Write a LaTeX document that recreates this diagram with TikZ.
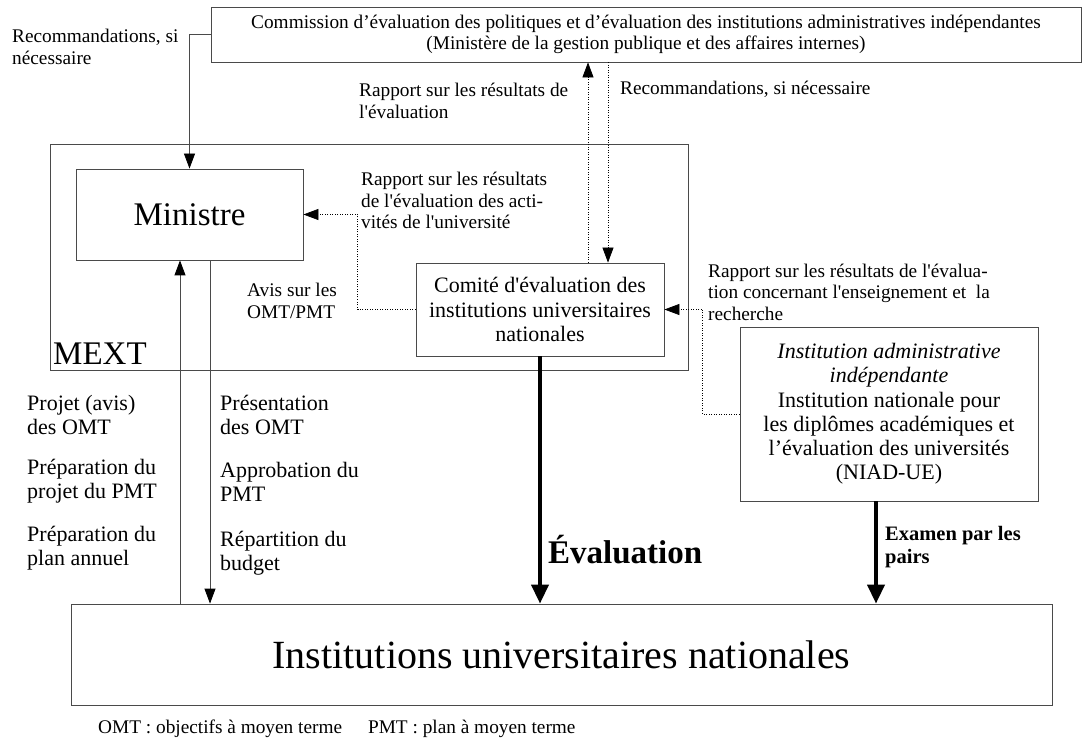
\documentclass[tikz,border=0pt]{standalone}
\usepackage{fontspec}
\setmainfont{Liberation Serif}
\usepackage{tikz}
\usetikzlibrary{arrows.meta,positioning,calc}
\definecolor{linegray}{HTML}{4A4A4A}
\newcommand{\sqt}{\textquotesingle}
\tikzset{
  box/.style={draw=linegray, line width=0.8pt, align=center, inner sep=0pt, font=\fontsize{22}{24.2}\selectfont},
  smallbox/.style={box, font=\fontsize{19.3}{21.5}\selectfont},
  panel/.style={draw=linegray, line width=0.8pt, inner sep=0pt},
  lbl/.style={align=left, inner sep=0pt, anchor=west, font=\fontsize{19.3}{21.5}\selectfont},
  collbl/.style={align=left, inner sep=0pt, anchor=west, font=\fontsize{22}{24}\selectfont},
  biglbl/.style={anchor=base west, inner sep=0pt, font=\fontsize{33}{36}\selectfont},
  arrow/.style={-{Triangle[length=15pt,width=11pt,color=black]}, draw=linegray, line width=0.8pt},
  dotarrow/.style={-{Triangle[length=15pt,width=11pt,color=black]}, draw=black, line width=0.7pt, dash pattern=on 1pt off 1.5pt},
  bigarrow/.style={-{Triangle[length=19pt,width=17pt]}, draw=black, line width=3.8pt}
}

\begin{document}
\begin{tikzpicture}[x=1pt, y=-1pt]
  \useasboundingbox (0,0) rectangle (1082,738);

  \node[panel, minimum width=638pt, minimum height=226pt] (mext) at (369,257) {};
  \node[smallbox, minimum width=870pt, minimum height=55pt] (commission) at (646,34.5) {Commission d’évaluation des politiques et d’évaluation des institutions administratives indépendantes\\(Ministère de la gestion publique et des affaires internes)};
  \node[box, font=\fontsize{33}{36}\selectfont, minimum width=227pt, minimum height=91pt] (ministre) at (189.5,214.5) {Ministre};
  \node[box, minimum width=248pt, minimum height=93pt] (comite) at (540,309.5) {Comité d\sqt évaluation des\\institutions universitaires\\nationales};
  \node[box, minimum width=298pt, minimum height=174pt] (niad) at (889,414) {\textit{Institution administrative}\\\textit{indépendante}\\Institution nationale pour\\les diplômes académiques et\\l’évaluation des universités\\(NIAD-UE)};
  \node[box, font=\fontsize{40}{44}\selectfont, minimum width=981pt, minimum height=101pt] (inst) at (561.5,654.5) {Institutions universitaires nationales};

  \node[biglbl] (mextlbl) at (53,364) {MEXT};
  \node[lbl] (recoml) at (12,47) {Recommandations, si\\nécessaire};
  \node[lbl] (rapportcom) at (359,101) {Rapport sur les résultats de\\l\sqt évaluation};
  \node[lbl, anchor=base west] (recomr) at (620,95) {Recommandations, si nécessaire};
  \node[lbl] (rapportmin) at (361,200.5) {Rapport sur les résultats\\de l\sqt évaluation des acti-\\vités de l\sqt université};
  \node[lbl] (avis) at (247,301) {Avis sur les\\OMT/PMT};
  \node[lbl] (rapportniad) at (708,292) {Rapport sur les résultats de l\sqt évalua-\\tion concernant l\sqt enseignement et~ la\\recherche};

  \node[collbl] (projet) at (27,414.5) {Projet (avis)\\des OMT};
  \node[collbl] (prepmt) at (27,481.5) {Préparation du\\projet du PMT};
  \node[collbl] (prepan) at (27,548.5) {Préparation du\\plan annuel};
  \node[collbl] (present) at (220,414.5) {Présentation\\des OMT};
  \node[collbl] (approb) at (220,481.5) {Approbation du\\PMT};
  \node[collbl] (repart) at (220,553.5) {Répartition du\\budget};

  \node[biglbl, font=\bfseries\fontsize{33}{36}\selectfont] (evallbl) at (548,563) {Évaluation};
  \node[lbl, font=\bfseries\fontsize{20.5}{23}\selectfont] (examen) at (885,547) {Examen par les\\pairs};
  \node[lbl, anchor=base west] (legende) at (98,733) {OMT : objectifs à moyen terme\hspace{26pt}PMT : plan à moyen terme};

  \coordinate (upx) at (588,0);
  \coordinate (downx) at (608,0);
  \coordinate (upline) at (180,0);
  \coordinate (downline) at (210,0);
  \coordinate (peerx) at (876,0);

  \draw[arrow] (commission.west) -| (ministre.north);
  \draw[dotarrow] (comite.north -| upx) -- (commission.south -| upx);
  \draw[dotarrow] (commission.south -| downx) -- (comite.north -| downx);
  \draw[dotarrow] (comite.west) -- ++(-58,0) |- (ministre.east);
  \draw[dotarrow] (niad.west) -- ++(-37,0) |- (comite.east);
  \draw[arrow] (inst.north -| upline) -- (ministre.south -| upline);
  \draw[arrow] (ministre.south -| downline) -- (inst.north -| downline);
  \draw[bigarrow] (comite.south) -- (comite.south |- inst.north);
  \draw[bigarrow] (niad.south -| peerx) -- (inst.north -| peerx);
\end{tikzpicture}
\end{document}
